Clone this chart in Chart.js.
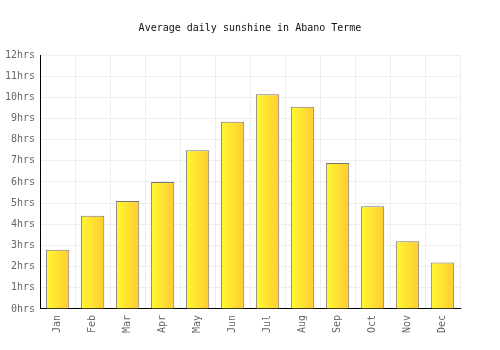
<!DOCTYPE html>
<html><head><meta charset="utf-8">
<script src="https://cdn.jsdelivr.net/npm/chart.js@4/dist/chart.umd.min.js"></script>
<style>html,body{margin:0;padding:0;background:#fff}#wrap{width:500px;height:350px}</style>
</head><body><div id="wrap"><canvas id="c" width="500" height="350"></canvas></div>
<script>
const months = ["Jan","Feb","Mar","Apr","May","Jun","Jul","Aug","Sep","Oct","Nov","Dec"];
const sunshineHours = [2.8, 4.4, 5.1, 6.0, 7.5, 8.85, 10.15, 9.55, 6.9, 4.85, 3.2, 2.2];
const yTicks = [0,1,2,3,4,5,6,7,8,9,10,11,12];
const titleText = "Average daily sunshine in Abano Terme";
const FONT = "'DejaVu Sans Mono', monospace";
const BAR_PCT = 0.667;

function barFill(ctx){
  const chart = ctx.chart;
  const xs = chart.scales && chart.scales.x;
  if (!xs || xs.width === undefined || ctx.dataIndex === undefined) return '#ffe433';
  const cx = xs.getPixelForValue(ctx.dataIndex);
  const w = xs.width / months.length * BAR_PCT;
  const g = chart.ctx.createLinearGradient(cx - w/2, 0, cx + w/2, 0);
  g.addColorStop(0, '#fff830');
  g.addColorStop(1, '#ffcc33');
  return g;
}

new Chart(document.getElementById('c'), {
  type: 'bar',
  data: { labels: months, datasets: [{
    data: sunshineHours,
    backgroundColor: barFill,
    borderColor: '#777780',
    borderWidth: 1,
    barPercentage: BAR_PCT,
    categoryPercentage: 1.0
  }]},
  options: {
    responsive: false,
    animation: false,
    devicePixelRatio: 1,
    layout: { padding: { left: 0, right: 0, top: 6, bottom: 11 } },
    plugins: {
      legend: { display: false },
      tooltip: { enabled: false },
      title: { display: true, text: titleText, color: '#111',
        font: { family: FONT, size: 10, weight: 'normal' }, padding: { top: 16, bottom: 21 } }
    },
    scales: {
      x: {
        offset: true,
        grid: { color: '#eeeeee', drawTicks: false, offset: true },
        border: { color: '#000', width: 1 },
        ticks: { color: '#666', font: { family: FONT, size: 10 }, maxRotation: 90, minRotation: 90, padding: 6 }
      },
      y: {
        min: 0, max: 12,
        afterBuildTicks: (s) => { s.ticks = yTicks.map(v => ({ value: v })); },
        grid: { color: '#eeeeee', drawTicks: false },
        border: { color: '#000', width: 1 },
        ticks: { color: '#666', font: { family: FONT, size: 10 }, padding: 5,
          callback: (v) => v + 'hrs' }
      },
      yRight: {
        position: 'right', min: 0, max: 12,
        grid: { display: false, drawOnChartArea: false, drawTicks: false },
        border: { display: false },
        ticks: { display: false },
        afterFit: (s) => { s.width = 40; }
      }
    }
  }
});
</script></body></html>
